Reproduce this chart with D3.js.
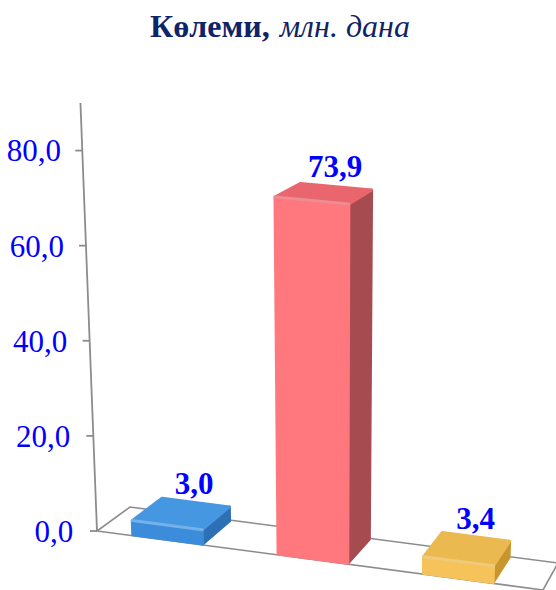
<!DOCTYPE html>
<html><head><meta charset="utf-8">
<script src="https://cdn.jsdelivr.net/npm/d3@7"></script>
<style>body{margin:0;background:#fff}svg{display:block}</style></head>
<body>
<svg id="c" width="556" height="590"></svg>
<script>
const categories = ["Санат 1", "Санат 2", "Санат 3"];
const values = [3.0, 73.9, 3.4];
const valueLabels = ["3,0", "73,9", "3,4"];
const frontColors = ["#3b8ddb", "#ff787e", "#f5c35a"];
const topColors = ["#4597e1", "#ea666e", "#eab94f"];
const sideColors = ["#2d70b5", "#a64c51", "#c8952f"];
const titleBold = "Көлеми,";
const titleItalic = "млн. дана";

const svg = d3.select("#c");
const FL = [97, 531], FR = [543, 590], BL = [130, 507], BR = [558, 563];

const x = d3.scaleBand().domain(categories).range([-0.01, 0.975]).paddingInner(0.52).paddingOuter(0.27);
const y = d3.scaleLinear().domain([0, 90]).range([0, 428]);

function P(u, v, h) {
  const bx = (1-u)*(1-v)*FL[0] + u*(1-v)*FR[0] + (1-u)*v*BL[0] + u*v*BR[0];
  const by = (1-u)*(1-v)*FL[1] + u*(1-v)*FR[1] + (1-u)*v*BL[1] + u*v*BR[1];
  const hp = y(h) * (1 + 0.042*u) * (1 - 0.03*v);
  return [bx + (bx - 330) * 0.000166 * hp, by - hp];
}
const line = d3.line();

// title
const t = svg.append("text").attr("x", 280).attr("y", 37).attr("text-anchor", "middle")
  .attr("font-family", "Liberation Serif, Times New Roman, serif").attr("font-size", 32).attr("fill", "#0f2466");
t.append("tspan").attr("font-weight", "bold").text(titleBold);
t.append("tspan").attr("font-style", "italic").attr("dx", 10).text(titleItalic);

// floor
svg.append("path").attr("d", line([FL, FR, BR, BL]) + "Z")
  .attr("fill", "#fff").attr("stroke", "#8c8c8c").attr("stroke-width", 1.6);

// axis
svg.append("path").attr("d", line([P(0,0,0), P(0,0,y.domain()[1])]))
  .attr("stroke", "#8c8c8c").attr("stroke-width", 1.8).attr("fill", "none");
const ticks = y.ticks(5);
const fmt = d => d3.format(".1f")(d).replace(".", ",");
ticks.forEach(tv => {
  const p = P(0, 0, tv);
  svg.append("line").attr("x1", p[0] - 7).attr("x2", p[0]).attr("y1", p[1]).attr("y2", p[1])
    .attr("stroke", "#8c8c8c").attr("stroke-width", 1.8);
  svg.append("text").attr("x", p[0] - 21 - (y.domain()[1] - tv) * 0.03).attr("y", p[1]).attr("dy", "0.35em")
    .attr("text-anchor", "end").attr("font-family", "Liberation Serif, Times New Roman, serif")
    .attr("font-size", 31).attr("fill", "#0000ff").text(fmt(tv));
});

// bars
const v0 = 0.03, v1 = 0.97;
categories.forEach((c, i) => {
  const u0 = x(c), u1 = x(c) + x.bandwidth(), h = values[i];
  const g = svg.append("g");
  const front = [P(u0,v0,0), P(u1,v0,0), P(u1,v0,h), P(u0,v0,h)];
  const side = [P(u1,v0,0), P(u1,v1,0), P(u1,v1,h), P(u1,v0,h)];
  const top = [P(u0,v0,h), P(u1,v0,h), P(u1,v1,h), P(u0,v1,h)];
  [[side, sideColors[i]], [front, frontColors[i]], [top, topColors[i]]].forEach(([pts, col]) => {
    g.append("path").attr("d", line(pts) + "Z").attr("fill", col)
      .attr("stroke", col).attr("stroke-width", 3).attr("stroke-linejoin", "round");
  });
  g.append("path").attr("d", line([P(u0,v0,h), P(u1,v0,h)]))
    .attr("stroke", "#fff").attr("stroke-opacity", 0.25).attr("stroke-width", 3).attr("stroke-linecap", "round");
  const lp = P((u0+u1)/2, 0.85, h);
  svg.append("text").attr("x", lp[0] + 2).attr("y", lp[1] - 22).attr("dy", "0.35em")
    .attr("text-anchor", "middle").attr("font-family", "Liberation Serif, Times New Roman, serif")
    .attr("font-weight", "bold").attr("font-size", 31).attr("fill", "#0000ff").text(valueLabels[i]);
});
</script>
</body></html>
